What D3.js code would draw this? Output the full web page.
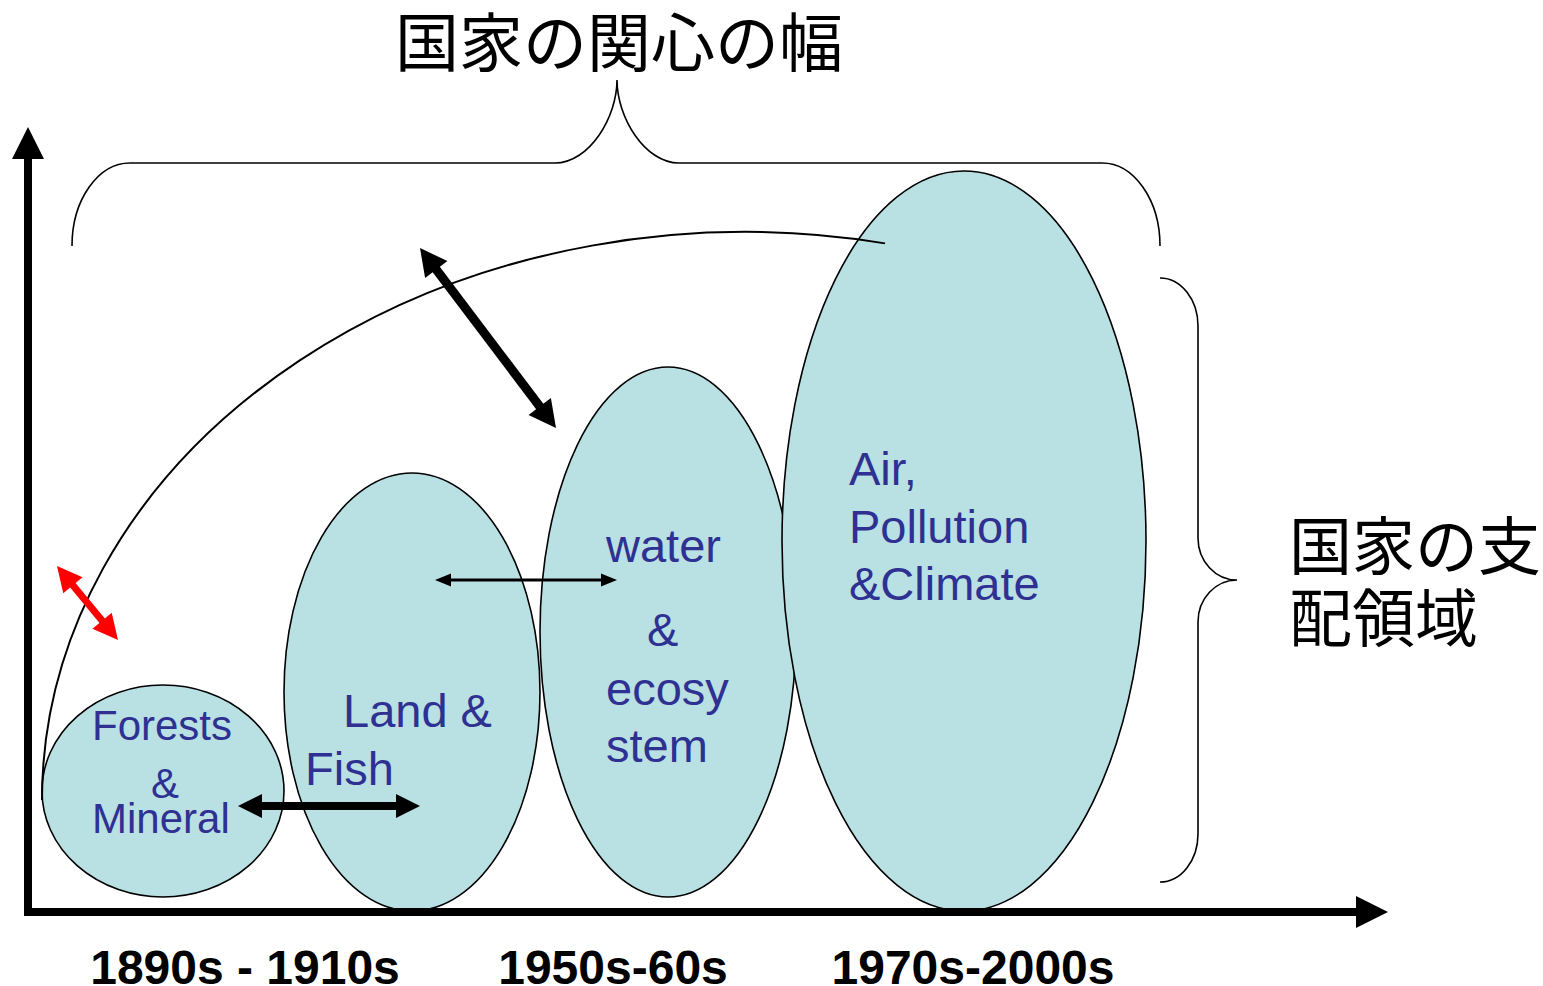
<!DOCTYPE html>
<html>
<head>
<meta charset="utf-8">
<script src="https://cdn.jsdelivr.net/npm/d3@7"></script>
<style>
  body { margin: 0; background: #fff; }
  svg { display: block; }
</style>
</head>
<body>
<div id="chart"></div>
<script>
// units are pixels measured from the axis origin (x right, y up)
var eras = ["1890s - 1910s", "1950s-60s", "1970s-2000s"];
var eraPos = [217, 585, 945];

var domains = ["Forests & Mineral", "Land & Fish", "water & ecosystem", "Air, Pollution & Climate"];
var ellCx = [135, 384, 640, 936];
var ellCy = [121, 220, 280, 371];
var ellRx = [121, 128, 128, 182];
var ellRy = [106, 219, 265, 370];

// text lines inside the ellipses: [domain index, text, x, y, anchor]
var lines = [
    [0, "Forests", 64, 172, "start"],
    [0, "&", 137, 114, "middle"],
    [0, "Mineral", 64, 79, "start"],
    [1, "Land &", 315, 185, "start"],
    [1, "Fish", 277, 127, "start"],
    [2, "water", 578, 350, "start"],
    [2, "&", 619, 266, "start"],
    [2, "ecosy", 578, 207, "start"],
    [2, "stem", 578, 150, "start"],
    [3, "Air,", 821, 427, "start"],
    [3, "Pollution", 821, 369, "start"],
    [3, "&Climate", 821, 312, "start"]
];

// double arrows
var arrows = [
    { from: [392, 664], to: [528, 484], color: "#000", w: 9, hl: 27, hw: 28 },
    { from: [407, 332], to: [589, 332], color: "#000", w: 3, hl: 16, hw: 13 },
    { from: [210, 106], to: [392, 106], color: "#000", w: 8, hl: 24, hw: 24 },
    { from: [29, 346], to: [90, 272], color: "#ff0000", w: 7, hl: 25, hw: 25 }
];

// big span curve (elliptical arc)
var arcCenter = [717, 112], arcR = [703, 568], arcEndX = 857;

var titleTop = "国家の関心の幅";
var titleRight = ["国家の支", "配領域"];

var W = 1543, H = 986;
var x = d3.scaleLinear().domain([0, 1332]).range([28, 1360]);
var y = d3.scaleLinear().domain([0, 762]).range([912, 150]);

var svg = d3.select("#chart").append("svg")
    .attr("width", W)
    .attr("height", H);

// ellipses
svg.selectAll(".domain-ell")
    .data(domains)
    .enter()
    .append("ellipse")
    .attr("class", "domain-ell")
    .attr("cx", (d, i) => x(ellCx[i]))
    .attr("cy", (d, i) => y(ellCy[i]))
    .attr("rx", (d, i) => x(ellRx[i]) - x(0))
    .attr("ry", (d, i) => y(0) - y(ellRy[i]))
    .attr("fill", "#b9e0e3")
    .attr("stroke", "#000")
    .attr("stroke-width", 1.6);

// the arc of national interest
var ax0 = x(arcCenter[0] - arcR[0]), ay0 = y(arcCenter[1]);
var rxPx = x(arcR[0]) - x(0), ryPx = y(0) - y(arcR[1]);
var t = (arcEndX - arcCenter[0]) / arcR[0];
var ax1 = x(arcEndX), ay1 = y(arcCenter[1] + arcR[1] * Math.sqrt(1 - t * t));
svg.append("path")
    .attr("d", `M${ax0},${ay0} A${rxPx},${ryPx} 0 0 1 ${ax1},${ay1}`)
    .attr("fill", "none")
    .attr("stroke", "#000")
    .attr("stroke-width", 2);

// axes
function arrowHead(tip, dir, hl, hw) {
    var nx = -dir[1], ny = dir[0];
    var bx = tip[0] - dir[0] * hl, by = tip[1] - dir[1] * hl;
    return [tip, [bx + nx * hw / 2, by + ny * hw / 2], [bx - nx * hw / 2, by - ny * hw / 2]];
}

svg.append("line")
    .attr("x1", x(0)).attr("y1", y(-4))
    .attr("x2", x(0)).attr("y2", y(760))
    .attr("stroke", "#000").attr("stroke-width", 8);
svg.append("polygon")
    .attr("points", arrowHead([x(0), y(785)], [0, -1], 32, 32).join(" "))
    .attr("fill", "#000");
svg.append("line")
    .attr("x1", x(-4)).attr("y1", y(0))
    .attr("x2", x(1332)).attr("y2", y(0))
    .attr("stroke", "#000").attr("stroke-width", 8);
svg.append("polygon")
    .attr("points", arrowHead([x(1360), y(0)], [1, 0], 32, 32).join(" "))
    .attr("fill", "#000");

// text inside ellipses
svg.selectAll(".dom-label")
    .data(lines)
    .enter()
    .append("text")
    .attr("class", "dom-label")
    .attr("x", d => x(d[2]))
    .attr("y", d => y(d[3]))
    .attr("text-anchor", d => d[4])
    .attr("font-family", "'Liberation Sans', Arial, sans-serif")
    .attr("font-size", d => d[0] === 0 ? 42 : 47)
    .attr("fill", "#2e3192")
    .text(d => d[1]);

// double arrows
arrows.forEach(function (a) {
    var p1 = [x(a.from[0]), y(a.from[1])], p2 = [x(a.to[0]), y(a.to[1])];
    var len = Math.hypot(p2[0] - p1[0], p2[1] - p1[1]);
    var d = [(p2[0] - p1[0]) / len, (p2[1] - p1[1]) / len];
    svg.append("line")
        .attr("x1", p1[0] + d[0] * a.hl * 0.8).attr("y1", p1[1] + d[1] * a.hl * 0.8)
        .attr("x2", p2[0] - d[0] * a.hl * 0.8).attr("y2", p2[1] - d[1] * a.hl * 0.8)
        .attr("stroke", a.color).attr("stroke-width", a.w);
    svg.append("polygon")
        .attr("points", arrowHead(p2, d, a.hl, a.hw).join(" "))
        .attr("fill", a.color);
    svg.append("polygon")
        .attr("points", arrowHead(p1, [-d[0], -d[1]], a.hl, a.hw).join(" "))
        .attr("fill", a.color);
});

// braces
var k = 0.552;
var topBrace = d3.path();
(function () {
    var L = x(44), R = x(1132), base = y(666), top = y(749), tip = y(832), mid = x(589);
    var cw = 58, tw = 62;
    topBrace.moveTo(L, base);
    topBrace.bezierCurveTo(L, base - k * (base - top), L + cw - k * cw, top, L + cw, top);
    topBrace.lineTo(mid - tw, top);
    topBrace.bezierCurveTo(mid - tw + k * tw, top, mid, top - k * (top - tip), mid, tip);
    topBrace.bezierCurveTo(mid, top - k * (top - tip), mid + tw - k * tw, top, mid + tw, top);
    topBrace.lineTo(R - cw, top);
    topBrace.bezierCurveTo(R - cw + k * cw, top, R, base - k * (base - top), R, base);
})();
svg.append("path")
    .attr("d", topBrace.toString())
    .attr("fill", "none").attr("stroke", "#000").attr("stroke-width", 1.6);

var rightBrace = d3.path();
(function () {
    var T = y(634), B = y(30), L = x(1132), V = x(1170), tipX = x(1209), mid = y(332);
    var ch = 48, th = 42;
    var cw = V - L, tw = tipX - V;
    rightBrace.moveTo(L, T);
    rightBrace.bezierCurveTo(L + k * cw, T, V, T + ch - k * ch, V, T + ch);
    rightBrace.lineTo(V, mid - th);
    rightBrace.bezierCurveTo(V, mid - th + k * th, tipX - k * tw, mid, tipX, mid);
    rightBrace.bezierCurveTo(tipX - k * tw, mid, V, mid + th - k * th, V, mid + th);
    rightBrace.lineTo(V, B - ch);
    rightBrace.bezierCurveTo(V, B - ch + k * ch, L + k * cw, B, L, B);
})();
svg.append("path")
    .attr("d", rightBrace.toString())
    .attr("fill", "none").attr("stroke", "#000").attr("stroke-width", 1.6);

// titles
var cjk = "'Noto Sans CJK JP', 'Noto Sans CJK SC', sans-serif";
svg.append("text")
    .attr("x", x(591)).attr("y", y(874))
    .attr("text-anchor", "middle")
    .attr("dominant-baseline", "central")
    .attr("font-family", cjk)
    .attr("font-size", 64)
    .attr("fill", "#000")
    .text(titleTop);

svg.selectAll(".rtitle")
    .data(titleRight)
    .enter()
    .append("text")
    .attr("class", "rtitle")
    .attr("x", x(1261))
    .attr("y", (d, i) => y(371 - i * 72))
    .attr("dominant-baseline", "central")
    .attr("font-family", cjk)
    .attr("font-size", 63)
    .attr("fill", "#000")
    .text(d => d);

// era labels
svg.selectAll(".era")
    .data(eras)
    .enter()
    .append("text")
    .attr("class", "era")
    .attr("x", (d, i) => x(eraPos[i]))
    .attr("y", y(-72))
    .attr("text-anchor", "middle")
    .attr("font-family", "'Liberation Sans', Arial, sans-serif")
    .attr("font-weight", "bold")
    .attr("font-size", 48)
    .attr("fill", "#000")
    .text(d => d);
</script>
</body>
</html>
